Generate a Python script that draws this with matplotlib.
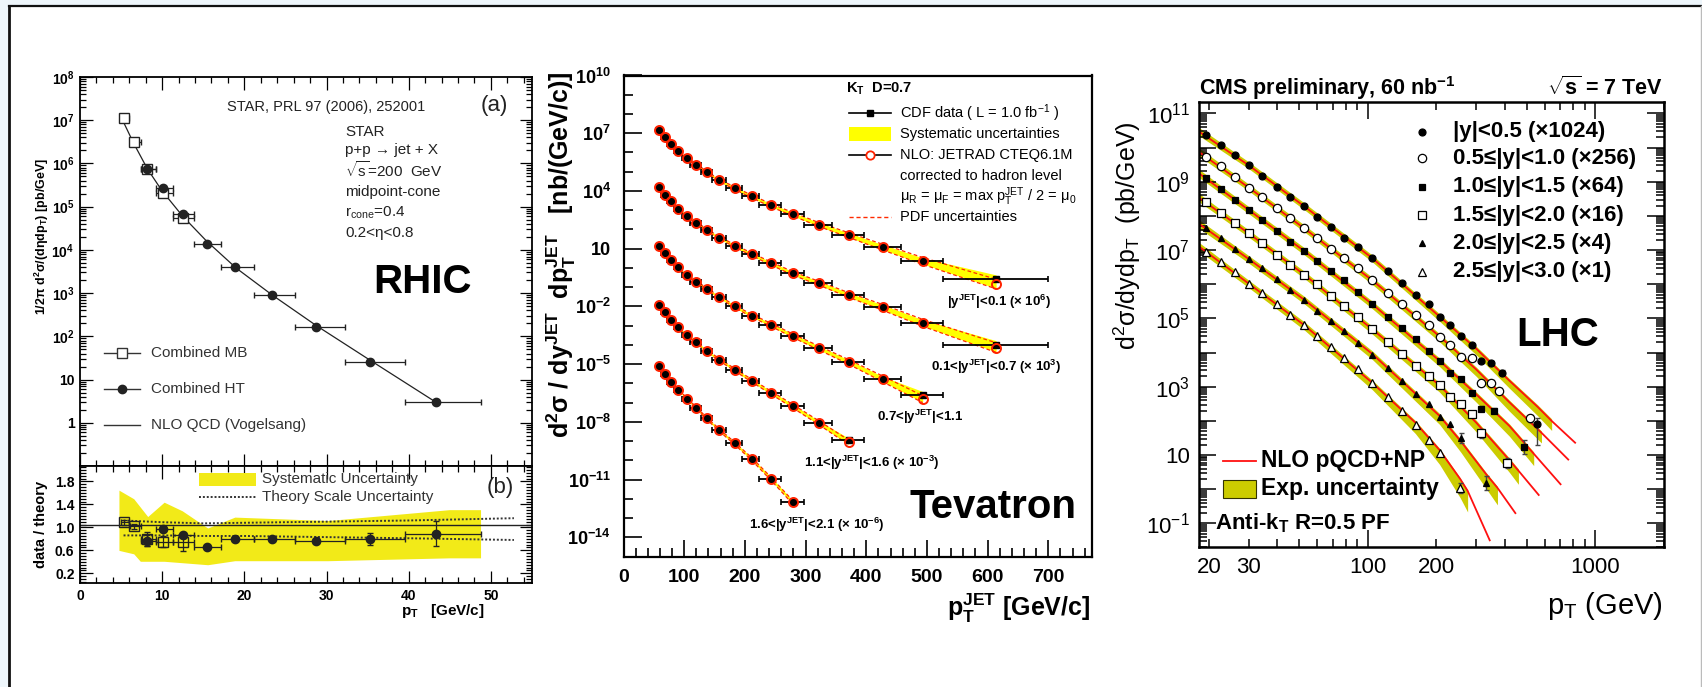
import numpy as np
import matplotlib
matplotlib.use("Agg")
import matplotlib.pyplot as plt
from matplotlib.patches import Rectangle
from matplotlib.ticker import FixedLocator, MultipleLocator, NullFormatter

plt.rcParams['font.family'] = ['Liberation Sans', 'DejaVu Sans']
plt.rcParams['mathtext.fontset'] = 'custom'
plt.rcParams['mathtext.rm'] = 'Liberation Sans'
plt.rcParams['mathtext.it'] = 'Liberation Sans:italic'
plt.rcParams['mathtext.bf'] = 'Liberation Sans:bold'
plt.rcParams['mathtext.default'] = 'regular'

W, H = 1702, 687

# ---------------- RHIC (STAR) ----------------
rhic_mb_pt = [5.35, 6.55, 8.1, 10.1, 12.5]
rhic_mb_lo = [5.0, 6.1, 7.4, 9.2, 11.3]
rhic_mb_hi = [6.0, 7.4, 9.2, 11.3, 13.9]
rhic_mb_xsec = [1.1e7, 3.2e6, 7.6e5, 2.1e5, 5.6e4]
rhic_mb_ratio = [1.09, 1.02, 0.80, 0.75, 0.74]
rhic_mb_rerr = [0.04, 0.04, 0.12, 0.10, 0.15]

rhic_ht_pt = [8.2, 10.1, 12.5, 15.4, 18.9, 23.4, 28.7, 35.3, 43.3]
rhic_ht_lo = [7.4, 9.2, 11.3, 13.9, 17.2, 21.2, 26.2, 32.2, 39.6]
rhic_ht_hi = [9.2, 11.3, 13.9, 17.2, 21.2, 26.2, 32.2, 39.6, 48.8]
rhic_ht_xsec = [7.6e5, 2.75e5, 6.8e4, 1.35e4, 4.0e3, 890, 162, 26, 3.0]
rhic_ht_ratio = [0.77, 0.97, 0.86, 0.65, 0.79, 0.79, 0.76, 0.80, 0.89]
rhic_ht_rerr = [0.10, 0.04, 0.04, 0.03, 0.03, 0.03, 0.04, 0.10, 0.22]

rhic_nlo_pt = [5.3, 6.5, 8.2, 10.0, 12.5, 15.4, 19.0, 23.4, 28.7, 35.3, 43.3]
rhic_nlo_xsec = [9e6, 3e6, 7.5e5, 2.3e5, 6.0e4, 1.6e4, 3.8e3, 900, 180, 28, 3.0]

rhic_sys_up_pt = [4.8, 6.6, 8.3, 10.3, 12.5, 15.6, 18.9, 30.2, 45.0, 48.8]
rhic_sys_up = [1.64, 1.49, 1.18, 1.43, 1.28, 0.98, 1.17, 1.11, 1.30, 1.30]
rhic_sys_lo_pt = [4.8, 6.6, 7.4, 10.3, 15.6, 18.9, 30.2, 45.0, 48.8]
rhic_sys_lo = [0.59, 0.53, 0.40, 0.40, 0.34, 0.41, 0.41, 0.46, 0.46]
rhic_scale_pt = [5.3, 10, 15, 20, 30, 40, 52.8]
rhic_scale_hi = [1.12, 1.09, 1.07, 1.08, 1.10, 1.12, 1.16]
rhic_scale_lo = [0.86, 0.86, 0.85, 0.85, 0.83, 0.81, 0.78]

rhic_yticks = [1, 10, 1e2, 1e3, 1e4, 1e5, 1e6, 1e7, 1e8]
rhic_ylabels = ['1', '10', '$10^{2}$', '$10^{3}$', '$10^{4}$', '$10^{5}$',
                '$10^{6}$', '$10^{7}$', '$10^{8}$']
rhic_rticks = [0.2, 0.6, 1.0, 1.4, 1.8]
rhic_rlabels = ['0.2', '0.6', '1.0', '1.4', '1.8']
rhic_xticks = [0, 10, 20, 30, 40, 50]

# ---------------- Tevatron (CDF) ----------------
tev_edges = [54, 62, 72, 83, 96, 110, 127, 146, 169, 195, 224, 259, 298, 344, 396, 457, 527, 700]
tev_pt = [59, 68, 78, 90, 104, 120, 137, 158, 183, 211, 243, 279, 322, 371, 427, 493, 614]
tev_xsec = [
    [1.5e7, 6.2e6, 2.8e6, 1.2e6, 5.1e5, 2.3e5, 9.3e4, 3.5e4, 1.4e4, 5.2e3, 1.8e3,
     620, 180, 51, 12, 2.3, 0.26],
    [1.6e4, 6.5e3, 3.0e3, 1.2e3, 520, 220, 93, 37, 14, 5.1, 1.7, 0.52, 0.16,
     0.039, 8.9e-3, 1.4e-3, 1.0e-4],
    [14, 5.8, 2.6, 1.07, 0.42, 0.19, 0.079, 0.030, 0.010, 3.3e-3, 1.1e-3, 3.0e-4,
     6.9e-5, 1.3e-5, 1.7e-6, 2.6e-7],
    [0.012, 4.9e-3, 2.0e-3, 8.1e-4, 3.4e-4, 1.4e-4, 4.7e-5, 1.7e-5, 5.1e-6, 1.4e-6,
     3.3e-7, 6.5e-8, 8.9e-9, 1.1e-9],
    [7.9e-6, 3.2e-6, 1.2e-6, 4.7e-7, 1.6e-7, 5.2e-8, 1.5e-8, 3.7e-9, 7.6e-10,
     1.2e-10, 1.1e-11, 6.5e-13],
]
tev_nlo_last = [0.145, 7.2e-5, 1.5e-7, 8.5e-10, 6.5e-13]
tev_sys = [0.05, 0.05, 0.05, 0.05, 0.05, 0.06, 0.06, 0.06, 0.07, 0.07, 0.08, 0.09,
           0.10, 0.11, 0.13, 0.16, 0.22]
tev_pdf = [0.04, 0.04, 0.04, 0.04, 0.05, 0.05, 0.05, 0.06, 0.06, 0.07, 0.08, 0.09,
           0.10, 0.12, 0.15, 0.18, 0.25]
tev_labels = [r'|y$^{JET}$|<0.1 ($\times$ 10$^{6}$)',
              r'0.1<|y$^{JET}$|<0.7 ($\times$ 10$^{3}$)',
              r'0.7<|y$^{JET}$|<1.1',
              r'1.1<|y$^{JET}$|<1.6 ($\times$ 10$^{-3}$)',
              r'1.6<|y$^{JET}$|<2.1 ($\times$ 10$^{-6}$)']
tev_yticks = [1e-14, 1e-11, 1e-8, 1e-5, 1e-2, 10, 1e4, 1e7, 1e10]
tev_ylabels = ['$10^{-14}$', '$10^{-11}$', '$10^{-8}$', '$10^{-5}$', '$10^{-2}$',
               '10', '$10^{4}$', '$10^{7}$', '$10^{10}$']
tev_xticks = [0, 100, 200, 300, 400, 500, 600, 700]

# ---------------- LHC (CMS) ----------------
lhc_pt_common = [19.5, 22.6, 26, 29.9, 34.4, 39.9, 45.7, 52.6, 59.8, 68.9, 78.9, 90.4,
                 104.7, 122.3, 141, 163, 185, 208, 231, 258, 286, 315, 347]
lhc_pt_extra = [[391, 558], [376, 517], [359, 488], [408], [331], [255]]
lhc_xsec = [
    [2.3e10, 1.2e10, 6.0e9, 3.0e9, 1.5e9, 7.1e8, 3.6e8, 1.9e8, 9.5e7, 4.8e7, 2.3e7,
     1.2e7, 5.8e6, 2.5e6, 1.1e6, 4.8e5, 2.6e5, 1.1e5, 6.3e4, 3.0e4, 1.7e4, 5.6e3,
     5.1e3, 2.6e3, 79],
    [5.4e9, 2.8e9, 1.4e9, 6.6e8, 3.5e8, 1.7e8, 8.5e7, 4.3e7, 2.3e7, 1.1e7, 5.8e6,
     2.9e6, 1.3e6, 5.6e5, 2.6e5, 1.3e5, 6.3e4, 2.9e4, 1.7e4, 7.6e3, 7.1e3, 1.3e3,
     1.3e3, 760, 120],
    [1.3e9, 6.0e8, 2.9e8, 1.5e8, 7.6e7, 3.7e7, 1.7e7, 9.3e6, 4.8e6, 2.5e6, 1.3e6,
     5.8e5, 2.6e5, 1.1e5, 5.1e4, 2.5e4, 1.1e4, 5.6e3, 2.5e3, 1.7e3, 660, 230, 200, 17],
    [2.5e8, 1.2e8, 6.0e7, 3.1e7, 1.6e7, 7.4e6, 3.6e6, 1.9e6, 1.0e6, 4.5e5, 2.3e5,
     1.1e5, 4.8e4, 2.1e4, 9.1e3, 4.0e3, 2.0e3, 1.1e3, 490, 310, 160, 43, 5.8],
    [4.3e7, 2.2e7, 1.1e7, 5.5e6, 2.9e6, 1.4e6, 6.8e5, 3.5e5, 1.7e5, 8.5e4, 4.3e4,
     1.9e4, 8.5e3, 3.5e3, 1.5e3, 600, 320, 130, 79, 31, 1.55],
    [8.9e6, 4.6e6, 2.3e6, 1.05e6, 5.6e5, 2.6e5, 1.3e5, 6.3e4, 3.0e4, 1.5e4, 6.8e3,
     3.2e3, 1.3e3, 510, 190, 76, 28, 11.5, 1.1],
]
# error bars (decades, down/up) on the last few points of each rapidity bin
lhc_tail_err = [
    [(0.06, 0.06), (0.06, 0.06), (0.08, 0.08), (0.59, 0.19)],
    [(0.07, 0.07), (0.07, 0.07), (0.08, 0.08), (0.10, 0.10)],
    [(0.08, 0.08), (0.08, 0.08), (0.20, 0.20)],
    [(0.12, 0.12), (0.15, 0.15)],
    [(0.15, 0.15), (0.20, 0.20)],
    [(0.15, 0.15)],
]
lhc_nlo_pt = [
    [18, 30, 52.6, 104.7, 208, 300, 420, 558, 644, 817],
    [18, 29.9, 52.6, 104.7, 208, 300, 420, 581, 762],
    [18, 29.9, 52.6, 104.7, 208, 300, 420, 537, 705],
    [18, 29.9, 52.6, 104.7, 207, 300, 420, 460, 565],
    [18, 29.9, 52.6, 104.7, 207, 257, 331, 372, 446],
    [18, 29.9, 52.6, 104.7, 162, 207, 255, 275, 344],
]
lhc_nlo = [
    [3.0e10, 3.0e9, 1.9e8, 5.8e6, 1.1e5, 1.3e4, 1.5e3, 260, 100, 23],
    [7.6e9, 6.8e8, 4.3e7, 1.3e6, 2.9e4, 3.2e3, 350, 45, 7.4],
    [1.8e9, 1.5e8, 9.3e6, 2.6e5, 5.6e3, 600, 71, 11, 1.4],
    [3.5e8, 3.1e7, 1.9e6, 4.8e4, 1.1e3, 89, 7.1, 3.5, 0.68],
    [6.0e7, 5.5e6, 3.5e5, 9.1e3, 140, 25, 2.8, 1.1, 0.2],
    [1.3e7, 1.05e6, 6.3e4, 1.3e3, 89, 14, 2.0, 0.9, 0.032],
]
# experimental-uncertainty band, decades above / below the NLO curve at its nodes
lhc_band_up = [
    [0.12, 0.10, 0.10, 0.09, 0.08, 0.07, 0.06, 0.06, 0.06],
    [0.12, 0.10, 0.10, 0.09, 0.08, 0.07, 0.06, 0.05],
    [0.12, 0.10, 0.10, 0.09, 0.08, 0.07, 0.06, 0.05],
    [0.12, 0.10, 0.10, 0.09, 0.08, 0.07, 0.06, 0.05],
    [0.12, 0.10, 0.10, 0.09, 0.07, 0.06, 0.05, 0.04],
    [0.12, 0.10, 0.10, 0.08, 0.06, 0.05, 0.03, 0.02],
]
lhc_band_dn = [
    [0.12, 0.10, 0.10, 0.11, 0.14, 0.18, 0.22, 0.26, 0.28],
    [0.12, 0.10, 0.10, 0.12, 0.16, 0.20, 0.26, 0.30],
    [0.12, 0.11, 0.11, 0.13, 0.17, 0.23, 0.30, 0.35],
    [0.12, 0.11, 0.11, 0.14, 0.20, 0.27, 0.36, 0.40],
    [0.13, 0.12, 0.12, 0.16, 0.25, 0.32, 0.42, 0.50],
    [0.13, 0.12, 0.14, 0.20, 0.32, 0.42, 0.55, 0.62],
]
lhc_labels = ['|y|<0.5 (\u00d71024)', '0.5\u2264|y|<1.0 (\u00d7256)',
              '1.0\u2264|y|<1.5 (\u00d764)', '1.5\u2264|y|<2.0 (\u00d716)',
              '2.0\u2264|y|<2.5 (\u00d74)', '2.5\u2264|y|<3.0 (\u00d71)']
lhc_markers = [('o', 'black'), ('o', 'white'), ('s', 'black'),
               ('s', 'white'), ('^', 'black'), ('^', 'white')]
lhc_yticks = [1e-1, 1, 10, 1e2, 1e3, 1e4, 1e5, 1e6, 1e7, 1e8, 1e9, 1e10, 1e11]
lhc_ylabels = ['$10^{-1}$', '', '10', '', '$10^{3}$', '', '$10^{5}$', '',
               '$10^{7}$', '', '$10^{9}$', '', '$10^{11}$']
lhc_xminor = [20, 30, 40, 50, 60, 70, 80, 90, 200, 300, 400, 500, 600, 700, 800, 900, 2000]
lhc_xminor_labels = ['20', '30', '', '', '', '', '', '', '200', '', '', '', '', '', '', '', '']


def add_ax(l, t, r, b):
    return fig.add_axes([l / W, 1 - b / H, (r - l) / W, (b - t) / H])


def log_minor(lo, hi):
    return [m * 10.0 ** k for k in range(lo, hi) for m in range(2, 10)]


fig = plt.figure(figsize=(W / 100, H / 100), dpi=100)
fig.patch.set_facecolor('#eef6fb')

bg = fig.add_axes([0, 0, 1, 1])
bg.set_xlim(0, W)
bg.set_ylim(H, 0)
bg.axis('off')
bg.add_patch(Rectangle((9, 6), W - 10, H, facecolor='white', edgecolor='none'))
bg.plot([9, W], [6, 6], color='#111111', lw=1.6)
bg.plot([9, 9], [6, H], color='#111111', lw=2)
bg.plot([W - 1.5, W - 1.5], [6, H], color='#bbbbbb', lw=1)

# ---------- RHIC top ----------
ax1 = add_ax(80, 77, 532, 466)
ax1.set_xlim(0, 55)
ax1.set_yscale('log')
ax1.set_ylim(0.1, 1e8)
ax1.plot(rhic_nlo_pt, rhic_nlo_xsec, color='#222222', lw=0.9, zorder=2)
mb_xerr = [np.subtract(rhic_mb_pt, rhic_mb_lo), np.subtract(rhic_mb_hi, rhic_mb_pt)]
ht_xerr = [np.subtract(rhic_ht_pt, rhic_ht_lo), np.subtract(rhic_ht_hi, rhic_ht_pt)]
ax1.errorbar(rhic_mb_pt, rhic_mb_xsec, xerr=mb_xerr, fmt='s', ms=6.5, mfc='white',
             mec='#222222', mew=1, ecolor='#222222', elinewidth=0.9, capsize=2.5, zorder=3)
ax1.errorbar(rhic_ht_pt, rhic_ht_xsec, xerr=ht_xerr, fmt='o', ms=6, color='#222222',
             ecolor='#222222', elinewidth=0.9, capsize=2.5, zorder=4)
ax1.set_yticks(rhic_yticks, rhic_ylabels, fontsize=10, fontweight='bold')
ax1.yaxis.set_minor_locator(FixedLocator(log_minor(-1, 8)))
ax1.yaxis.set_minor_formatter(NullFormatter())
ax1.xaxis.set_major_locator(MultipleLocator(10))
ax1.xaxis.set_minor_locator(MultipleLocator(2))
ax1.tick_params(which='both', direction='in', top=True, right=True, labelbottom=False,
                pad=4, width=0.9)
ax1.tick_params(which='major', length=9)
ax1.tick_params(which='minor', length=4.5)
for s in ax1.spines.values():
    s.set_linewidth(1.3)

# ---------- RHIC ratio ----------
ax2 = add_ax(80, 466, 532, 583)
ax2.set_xlim(0, 55)
ax2.set_ylim(0.03, 2.07)
ax2.fill(rhic_sys_up_pt + rhic_sys_lo_pt[::-1], rhic_sys_up + rhic_sys_lo[::-1],
         color='#f2ea18', lw=0, zorder=1)
ax2.axhline(1.035, color='#222222', lw=1, zorder=2)
ax2.plot(rhic_scale_pt, rhic_scale_hi, ls=(0, (1, 1)), color='#333333', lw=1.4, zorder=2)
ax2.plot(rhic_scale_pt, rhic_scale_lo, ls=(0, (1, 1)), color='#333333', lw=1.4, zorder=2)
ax2.errorbar(rhic_mb_pt, rhic_mb_ratio, xerr=mb_xerr, yerr=rhic_mb_rerr, fmt='s', ms=6.5,
             mfc='none', mec='#222222', mew=1, ecolor='#222222', elinewidth=0.9,
             capsize=2, zorder=3)
ax2.errorbar(rhic_ht_pt, rhic_ht_ratio, xerr=ht_xerr, yerr=rhic_ht_rerr, fmt='o', ms=6,
             color='#222222', ecolor='#222222', elinewidth=0.9, capsize=2, zorder=4)
ax2.set_yticks(rhic_rticks, rhic_rlabels, fontsize=10, fontweight='bold')
ax2.yaxis.set_minor_locator(MultipleLocator(0.05))
ax2.set_xticks(rhic_xticks, [str(v) for v in rhic_xticks], fontsize=10, fontweight='bold')
ax2.xaxis.set_minor_locator(MultipleLocator(2))
ax2.tick_params(which='both', direction='in', top=True, right=True, pad=4, width=0.9)
ax2.tick_params(which='major', length=9)
ax2.tick_params(which='minor', length=4.5)
for s in ax2.spines.values():
    s.set_linewidth(1.3)

# ---------- Tevatron ----------
ax3 = add_ax(623.5, 75.5, 1092, 556.5)
ax3.set_xlim(0, 772)
ax3.set_yscale('log')
ax3.set_ylim(1e-15, 1e10)
for i, vals in enumerate(tev_xsec):
    n = len(vals)
    x = np.array(tev_pt[:n])
    v = np.array(vals)
    nlo = v.copy()
    nlo[-1] = tev_nlo_last[i]
    sys_ = np.array(tev_sys[:n])
    pdf = np.array(tev_pdf[:n])
    ax3.fill_between(x, np.minimum(v, nlo) * 10 ** (-sys_), np.maximum(v, nlo) * 10 ** sys_,
                     color='#ffff00', lw=0, zorder=1)
    ax3.plot(x, nlo * 10 ** pdf, ls=(0, (3, 2)), color='#ff2a00', lw=0.9, zorder=2)
    ax3.plot(x, nlo * 10 ** (-pdf), ls=(0, (3, 2)), color='#ff2a00', lw=0.9, zorder=2)
    lo = x - np.array(tev_edges[:n])
    hi = np.array(tev_edges[1:n + 1]) - x
    ax3.errorbar(x, v, xerr=[lo, hi], fmt='s', ms=4, color='black', ecolor='black',
                 elinewidth=1.3, capsize=2.5, capthick=1.2, zorder=3)
    ax3.plot(x, nlo, 'o', ms=6.5, mfc='none', mec='#ff2200', mew=1.4, zorder=4)
ax3.set_yticks(tev_yticks, tev_ylabels, fontsize=13, fontweight='bold')
ax3.yaxis.set_minor_locator(FixedLocator([10.0 ** k for k in range(-15, 11) if k % 3 != 1]))
ax3.yaxis.set_minor_formatter(NullFormatter())
ax3.set_xticks(tev_xticks, [str(v) for v in tev_xticks], fontsize=14, fontweight='bold')
ax3.xaxis.set_minor_locator(MultipleLocator(20))
ax3.tick_params(which='both', direction='in', top=False, right=False, width=1.2)
ax3.tick_params(axis='y', which='major', length=13, pad=9)
ax3.tick_params(axis='x', which='major', length=12, pad=9)
ax3.tick_params(which='minor', length=6.5)
for s in ax3.spines.values():
    s.set_linewidth(1.6)

# ---------- LHC ----------
ax4 = add_ax(1198.5, 101.7, 1663.5, 547.3)
ax4.set_xscale('log')
ax4.set_yscale('log')
ax4.set_xlim(18, 2000)
ax4.set_ylim(0.02, 2.2e11)
for i in range(6):
    tx = np.array(lhc_nlo_pt[i])
    ty = np.array(lhc_nlo[i])
    nb = len(lhc_band_up[i])
    ax4.fill_between(tx[:nb], ty[:nb] * 10 ** (-np.array(lhc_band_dn[i])),
                     ty[:nb] * 10 ** np.array(lhc_band_up[i]),
                     color='#cccc00', lw=0, zorder=1)
    ax4.plot(tx, ty, color='#ff1010', lw=1.3, zorder=2)
for i in range(6):
    vals = lhc_xsec[i]
    extra = lhc_pt_extra[i]
    x = lhc_pt_common[:len(vals) - len(extra)] + extra
    k = len(lhc_tail_err[i])
    dn = [vals[-k + j] * (1 - 10 ** -lhc_tail_err[i][j][0]) for j in range(k)]
    up = [vals[-k + j] * (10 ** lhc_tail_err[i][j][1] - 1) for j in range(k)]
    ax4.errorbar(x[-k:], vals[-k:], yerr=[dn, up], fmt='none', ecolor='#444444',
                 elinewidth=1, capsize=1.8, zorder=3)
    m, fc = lhc_markers[i]
    ax4.plot(x, vals, m, ms=5 if fc == 'black' else 6, mfc=fc, mec='black', mew=0.9,
             ls='none', zorder=4)
ax4.set_yticks(lhc_yticks, lhc_ylabels, fontsize=16)
ax4.yaxis.set_minor_locator(FixedLocator(log_minor(-2, 11)))
ax4.yaxis.set_minor_formatter(NullFormatter())
ax4.set_xticks([100, 1000], ['100', '1000'], fontsize=16)
ax4.xaxis.set_minor_locator(FixedLocator(lhc_xminor))
ax4.set_xticks(lhc_xminor, lhc_xminor_labels, minor=True, fontsize=16)
ax4.tick_params(which='both', direction='in', top=True, right=True, width=1.1)
ax4.tick_params(axis='y', which='both', pad=6)
ax4.tick_params(axis='x', which='both', pad=7)
ax4.tick_params(which='major', length=12)
ax4.tick_params(which='minor', length=6)
for s in ax4.spines.values():
    s.set_linewidth(1.8)

# ---------- annotations in figure pixels ----------
ov = fig.add_axes([0, 0, 1, 1])
ov.set_xlim(0, W)
ov.set_ylim(H, 0)
ov.axis('off')

# RHIC
ov.text(326.5, 106.7, 'STAR, PRL 97 (2006), 252001', fontsize=10.5, color='#222222',
        ha='center', va='center')
ov.text(494, 105, '(a)', fontsize=16, ha='center', va='center', color='#222222')
star_lines = ['STAR', 'p+p \u2192 jet + X', r'$\sqrt{s}$=200  GeV', 'midpoint-cone',
              r'r$_{cone}$=0.4', '0.2<\u03b7<0.8']
for j, s in enumerate(star_lines):
    ov.text(345, [131.7, 150, 170, 191.7, 212.3, 232.7][j], s, fontsize=11,
            color='#222222', ha='left', va='center')
ov.text(423, 281.7, 'RHIC', fontsize=29, fontweight='bold', ha='center', va='center')
ov.plot([103.6, 140], [352.7, 352.7], color='#333333', lw=1)
ov.plot([121.8], [352.7], 's', ms=6.5, mfc='white', mec='#333333', mew=1)
ov.plot([103.6, 140], [389, 389], color='#333333', lw=1)
ov.plot([121.8], [389], 'o', ms=6, color='#222222')
ov.plot([103.6, 140], [425, 425], color='#333333', lw=1)
ov.text(151, 352.7, 'Combined MB', fontsize=11, color='#333333', va='center')
ov.text(151, 389, 'Combined HT', fontsize=11, color='#333333', va='center')
ov.text(151, 425, 'NLO QCD (Vogelsang)', fontsize=11, color='#333333', va='center')
ov.text(42, 237, r'1/2$\pi$ d$^{2}\sigma$/(d$\eta$dp$_{T}$) [pb/GeV]', fontsize=9,
        fontweight='bold', rotation=90, ha='center', va='center')
ov.text(500.5, 488, '(b)', fontsize=16, ha='center', va='center', color='#222222')
ov.add_patch(Rectangle((199, 473), 56.5, 13, facecolor='#f2ea18', edgecolor='none'))
ov.text(261.7, 479.5, 'Systematic Uncertainty', fontsize=11, color='#333333', va='center')
ov.plot([199, 255.5], [497.3, 497.3], ls=(0, (1, 1)), color='#333333', lw=1.4)
ov.text(261.7, 497.3, 'Theory Scale Uncertainty', fontsize=11, color='#333333',
        va='center')
ov.text(41, 524, 'data / theory', fontsize=10.5, fontweight='bold', rotation=90,
        ha='center', va='center')
ov.text(485, 611, r'p$_{T}$   [GeV/c]', fontsize=11, fontweight='bold', ha='right',
        va='center')

# Tevatron
ov.text(846, 89.3, r'K$_{T}$  D=0.7', fontsize=10.5, fontweight='bold', va='center')
ov.plot([849, 891], [113.3, 113.3], color='black', lw=1.2)
ov.plot([870], [113.3], 's', ms=4.5, color='black')
ov.text(900, 113.3, r'CDF data ( L = 1.0 fb$^{-1}$ )', fontsize=10.5, va='center')
ov.add_patch(Rectangle((849, 127.3), 42, 13.4, facecolor='#ffff00', edgecolor='none'))
ov.text(900, 134, 'Systematic uncertainties', fontsize=10.5, va='center')
ov.plot([849, 891], [155, 155], color='black', lw=1.2)
ov.plot([870], [155], 'o', ms=6, mfc='white', mec='#ff2200', mew=1.3)
ov.text(900, 155, 'NLO: JETRAD CTEQ6.1M', fontsize=10.5, va='center')
ov.text(900, 176, 'corrected to hadron level', fontsize=10.5, va='center')
ov.text(900, 196.7, r'$\mu_{R}$ = $\mu_{F}$ = max p$_{T}^{JET}$ / 2 = $\mu_{0}$',
        fontsize=10.5, va='center')
ov.plot([849, 891], [217.3, 217.3], ls=(0, (3, 2)), color='#ff2a00', lw=1)
ov.text(900, 217.3, 'PDF uncertainties', fontsize=10.5, va='center')
for lab, (lx, ly) in zip(tev_labels, [(999, 302.3), (996, 366.5), (920, 417.3),
                                      (871.5, 463.3), (816.5, 525)]):
    ov.text(lx, ly, lab, fontsize=9.5, fontweight='bold', ha='center', va='center')
ov.text(1077, 506.7, 'Tevatron', fontsize=29, fontweight='bold', ha='right', va='center')
ov.text(561, 255, r'd$^{2}$$\sigma$ / dy$^{JET}$  dp$_{T}^{JET}$   [nb/(GeV/c)]',
        fontsize=18, fontweight='bold', rotation=90, ha='center', va='center')
ov.text(1090, 608, r'p$_{T}^{JET}$ [GeV/c]', fontsize=18, fontweight='bold', ha='right',
        va='center')

# LHC
ov.text(1198.7, 95, r'CMS preliminary, 60 nb$^{-1}$', fontsize=15.5, fontweight='bold',
        ha='left', va='baseline')
ov.text(1663, 94.5, r'$\sqrt{s}$ = 7 TeV', fontsize=15.5, fontweight='bold', ha='right',
        va='baseline')
for j, lab in enumerate(lhc_labels):
    yy = [131.7, 158.3, 186.7, 215, 243.3, 271.7][j]
    m, fc = lhc_markers[j]
    ov.plot([1421.7], [yy], m, ms=5 if fc == 'black' else 6, mfc=fc, mec='black', mew=0.9)
    ov.text(1453, yy, lab, fontsize=16, fontweight='bold', va='center')
ov.text(1558, 335, 'LHC', fontsize=29, fontweight='bold', ha='center', va='center')
ov.plot([1223, 1255.5], [460.7, 460.7], color='#ff1010', lw=1.3)
ov.text(1261, 460.7, 'NLO pQCD+NP', fontsize=16.5, fontweight='bold', va='center')
ov.add_patch(Rectangle((1223, 480), 32.5, 18.3, facecolor='#cccc00', edgecolor='#333300',
                       lw=0.8))
ov.text(1261, 489, 'Exp. uncertainty', fontsize=16.5, fontweight='bold', va='center')
ov.text(1215, 523.3, r'Anti-k$_{T}$ R=0.5 PF', fontsize=16, fontweight='bold',
        va='center')
ov.text(1127, 236, r'd$^{2}$$\sigma$/dydp$_{T}$  (pb/GeV)', fontsize=18, rotation=90,
        ha='center', va='center')
ov.text(1663, 606, r'p$_{T}$ (GeV)', fontsize=21, ha='right', va='center')

fig.savefig('out.png', dpi=100, facecolor=fig.get_facecolor())
